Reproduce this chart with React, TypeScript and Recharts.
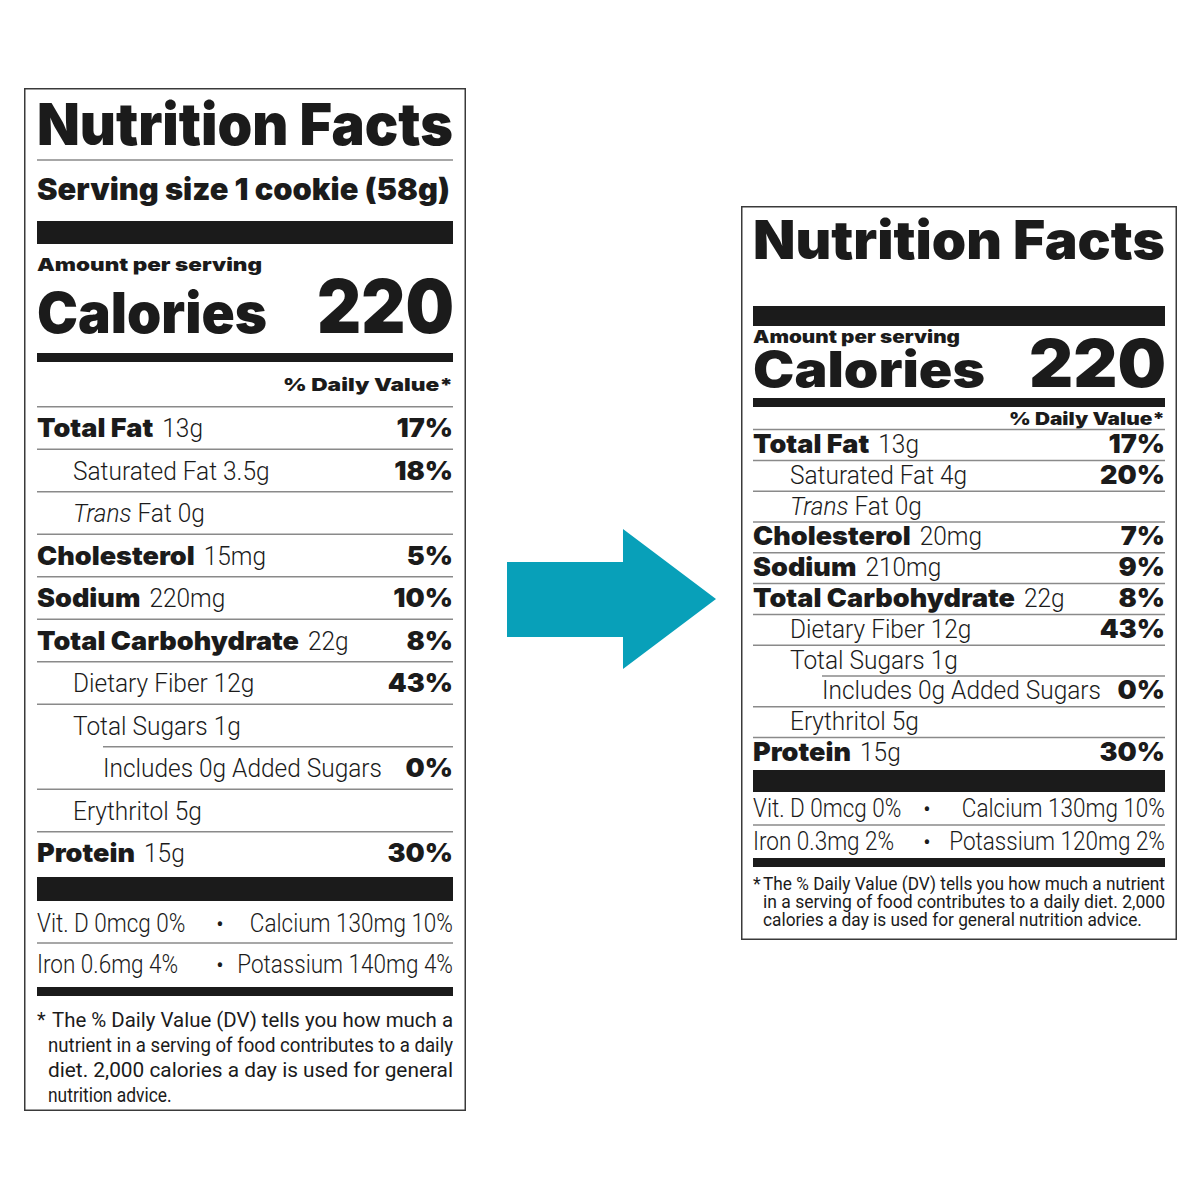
import React from "react";
import { BarChart, Bar, XAxis, YAxis } from "recharts";

// rows shared by both labels
const nutrients = [
  "Total Fat",
  "Saturated Fat",
  "Trans Fat",
  "Cholesterol",
  "Sodium",
  "Total Carbohydrate",
  "Dietary Fiber",
  "Total Sugars",
  "Includes 0g Added Sugars",
  "Erythritol",
  "Protein",
];
const nutrientLevels = [0, 1, 1, 0, 0, 0, 1, 1, 2, 1, 0];

// before (left label)
const beforeAmounts = ["13g", "3.5g", "0g", "15mg", "220mg", "22g", "12g", "1g", "", "5g", "15g"];
const beforeDV = [17, 18, null, 5, 10, 8, 43, null, 0, null, 30];
const beforeCalories = 220;
const beforeServing = "Serving size 1 cookie (58g)";
const beforeMinerals = [
  ["Vit. D 0mcg 0%", "Calcium 130mg 10%"],
  ["Iron 0.6mg 4%", "Potassium 140mg 4%"],
];
const beforeFootnote = [
  "The % Daily Value (DV) tells you how much a",
  "nutrient in a serving of food contributes to a daily",
  "diet. 2,000 calories a day is used for general",
  "nutrition advice.",
];

// after (right label)
const afterAmounts = ["13g", "4g", "0g", "20mg", "210mg", "22g", "12g", "1g", "", "5g", "15g"];
const afterDV = [17, 20, null, 7, 9, 8, 43, null, 0, null, 30];
const afterCalories = 220;
const afterMinerals = [
  ["Vit. D 0mcg 0%", "Calcium 130mg 10%"],
  ["Iron 0.3mg 2%", "Potassium 120mg 2%"],
];
const afterFootnote = [
  "The % Daily Value (DV) tells you how much a nutrient",
  "in a serving of food contributes to a daily diet. 2,000",
  "calories a day is used for general nutrition advice.",
];

const arrowData = [{ name: "becomes", value: 1 }];

const INK = "#1b1b1b";
const RULE = "#8a8a8a";
const HEAVY = "Inter, 'Noto Sans', sans-serif";
const LIGHT = "Roboto, 'Liberation Sans', sans-serif";
const ARROW = "#08a0b9";
const ROW_BOLD = 26;
const ROW_STRETCH = 1.04;

let ctx: CanvasRenderingContext2D | null = null;
function textWidth(text: string, font: string) {
  if (!ctx) ctx = document.createElement("canvas").getContext("2d");
  if (!ctx) return text.length * 10;
  ctx.font = font;
  return ctx.measureText(text).width;
}

const Heavy = ({ x, y, size, anchor, len, children }: any) => (
  <text
    x={x}
    y={y}
    fontFamily={HEAVY}
    fontWeight={900}
    fontSize={size}
    textAnchor={anchor || "start"}
    textLength={len}
    lengthAdjust={len ? "spacingAndGlyphs" : undefined}
    fill={INK}
  >
    {children}
  </text>
);

// condensed light text, squeezed from the measured natural width
const LightText = ({ x, y, size, text, lead, anchor, len, weight = 300, squeeze = 0.94 }: any) => {
  const natural =
    textWidth(text, `${weight} ${size}px Roboto`) +
    (lead ? textWidth(lead, `italic ${weight} ${size}px Roboto`) : 0);
  return (
    <text
      x={x}
      y={y}
      fontFamily={LIGHT}
      fontWeight={weight}
      fontSize={size}
      textAnchor={anchor || "start"}
      textLength={len ?? natural * squeeze}
      lengthAdjust="spacingAndGlyphs"
      fill={INK}
    >
      {lead && <tspan fontStyle="italic">{lead}</tspan>}
      {text}
    </text>
  );
};

const RowTick = (props: any) => {
  const { y, payload, rows, spec } = props;
  const i = rows.findIndex((r: any) => r.name === payload.value);
  if (i < 0) return null;
  const row = rows[i];
  const next = rows[i + 1];
  const L = spec.pad;
  const R = spec.width - spec.pad;
  const pitch = (spec.rowsBottom - spec.rowsTop) / rows.length;
  const base = y + spec.baseline;
  const boldW = (s: string) => textWidth(s, `900 ${ROW_BOLD}px Inter`) * ROW_STRETCH;

  let label;
  if (row.level === 0) {
    const nameW = boldW(row.name);
    label = (
      <g>
        <Heavy x={L} y={base} size={ROW_BOLD} len={nameW}>{row.name}</Heavy>
        <LightText x={L + nameW + 9} y={base} size={26} text={row.amount} />
      </g>
    );
  } else {
    const x = L + (row.level === 2 ? spec.indent2 : spec.indent1);
    const full = row.amount ? `${row.name} ${row.amount}` : row.name;
    const lead = full.startsWith("Trans ") ? "Trans" : undefined;
    label = <LightText x={x} y={base} size={26} lead={lead} text={lead ? full.slice(5) : full} />;
  }

  const dvText = row.dv != null ? `${row.dv}%` : null;
  return (
    <g>
      {label}
      {dvText && (
        <Heavy x={R} y={base} size={ROW_BOLD} len={boldW(dvText)} anchor="end">{dvText}</Heavy>
      )}
      {next && (
        <line
          x1={L + (next.level === 2 ? spec.indent2 : 0)}
          x2={R}
          y1={y + pitch / 2}
          y2={y + pitch / 2}
          stroke={RULE}
          strokeWidth={1.5}
        />
      )}
    </g>
  );
};

const LabelDecor = ({ spec, calories, serving, minerals, footnote }: any) => {
  const L = spec.pad;
  const R = spec.width - spec.pad;
  const W = R - L;
  return (
    <g>
      <rect x={0.75} y={0.75} width={spec.width - 1.5} height={spec.height - 1.5} fill="none" stroke="#3a3a3a" strokeWidth={1.5} />
      <Heavy x={L} y={spec.title.y} size={spec.title.size} len={spec.title.len}>Nutrition Facts</Heavy>
      {spec.rule != null && <line x1={L} x2={R} y1={spec.rule} y2={spec.rule} stroke={RULE} strokeWidth={1.5} />}
      {serving && (
        <Heavy x={L} y={spec.serving.y} size={spec.serving.size} len={spec.serving.len}>{serving}</Heavy>
      )}
      <rect x={L} y={spec.bar1[0]} width={W} height={spec.bar1[1]} fill={INK} />
      <Heavy x={L} y={spec.amountLine.y} size={spec.amountLine.size} len={spec.amountLine.len}>Amount per serving</Heavy>
      <Heavy x={L} y={spec.calories.y} size={spec.calories.size} len={spec.calories.len}>Calories</Heavy>
      <Heavy x={R + 1} y={spec.calories.y} size={spec.calValue.size} len={spec.calValue.len} anchor="end">{String(calories)}</Heavy>
      <rect x={L} y={spec.bar2[0]} width={W} height={spec.bar2[1]} fill={INK} />
      <Heavy x={R} y={spec.dvHead.y} size={spec.dvHead.size} len={spec.dvHead.len} anchor="end">% Daily Value*</Heavy>
      <line x1={L} x2={R} y1={spec.rowsTop} y2={spec.rowsTop} stroke={RULE} strokeWidth={1.5} />

      <rect x={L} y={spec.bar3[0]} width={W} height={spec.bar3[1]} fill={INK} />
      {minerals.map((pair: string[], k: number) => (
        <g key={k}>
          <LightText x={L} y={spec.minY[k]} size={25} squeeze={0.9} text={pair[0]} />
          <text x={spec.bulletX} y={spec.minY[k]} fontFamily={LIGHT} fontSize={22} textAnchor="middle" fill={INK}>•</text>
          <LightText x={R} y={spec.minY[k]} size={25} squeeze={0.9} anchor="end" text={pair[1]} />
        </g>
      ))}
      <line x1={L} x2={R} y1={spec.minLine} y2={spec.minLine} stroke={RULE} strokeWidth={1.5} />
      <rect x={L} y={spec.bar4[0]} width={W} height={spec.bar4[1]} fill={INK} />

      <text x={L} y={spec.foot.y0} fontFamily={LIGHT} fontSize={spec.foot.size} fill={INK}>*</text>
      {footnote.map((line: string, k: number) => {
        const x = L + (k === 0 ? spec.foot.firstIndent : spec.foot.indent);
        const last = k === footnote.length - 1;
        return (
          <LightText
            key={k}
            x={x}
            y={spec.foot.y0 + k * spec.foot.step}
            size={spec.foot.size}
            weight={400}
            squeeze={spec.foot.squeeze}
            text={line}
            len={last ? undefined : R - x}
          />
        );
      })}
    </g>
  );
};

const NutritionLabel = ({ spec, amounts, dv, calories, serving, minerals, footnote }: any) => {
  const rows = nutrients.map((name, i) => ({
    name,
    level: nutrientLevels[i],
    amount: amounts[i],
    dv: dv[i],
  }));
  return (
    <div style={{ position: "absolute", left: spec.left, top: spec.top, background: "#fff" }}>
      <BarChart
        layout="vertical"
        width={spec.width}
        height={spec.height}
        data={rows}
        margin={{ top: spec.rowsTop, bottom: spec.height - spec.rowsBottom, left: spec.pad, right: spec.pad }}
      >
        <LabelDecor spec={spec} calories={calories} serving={serving} minerals={minerals} footnote={footnote} />
        <XAxis type="number" hide domain={[0, 100]} />
        <YAxis
          type="category"
          dataKey="name"
          width={1}
          interval={0}
          tickLine={false}
          axisLine={false}
          tick={(p: any) => <RowTick {...p} rows={rows} spec={spec} />}
        />
        <Bar dataKey="dv" fillOpacity={0} isAnimationActive={false} />
      </BarChart>
    </div>
  );
};

const ArrowShape = (p: any) => {
  const { x, y, width: w, height: h, fill } = p;
  const neck = x + w * 0.555;
  const top = y + h * 0.236;
  const bot = y + h * 0.771;
  const pts = [
    [x, top],
    [neck, top],
    [neck, y],
    [x + w, y + h / 2],
    [neck, y + h],
    [neck, bot],
    [x, bot],
  ];
  return <polygon points={pts.map((q) => q.join(",")).join(" ")} fill={fill} />;
};

const beforeSpec = {
  left: 24, top: 88, width: 442, height: 1023, pad: 13, indent1: 36, indent2: 66, baseline: 9,
  title: { y: 57, size: 58, len: 416 },
  rule: 72,
  serving: { y: 112, size: 30, len: 413 },
  bar1: [133, 23],
  amountLine: { y: 183, size: 18, len: 225 },
  calories: { y: 245, size: 56, len: 230 },
  calValue: { size: 74, len: 137 },
  bar2: [265, 9],
  dvHead: { y: 303, size: 18, len: 170 },
  rowsTop: 318.75,
  rowsBottom: 786.25,
  bar3: [789, 24],
  minY: [844, 885],
  minLine: 855,
  bulletX: 196,
  bar4: [899, 9],
  foot: { y0: 939, step: 25, size: 20, indent: 11, firstIndent: 15, squeeze: 0.87 },
};

const afterSpec = {
  left: 741, top: 206, width: 436, height: 734, pad: 12, indent1: 37, indent2: 69, baseline: 8,
  title: { y: 53, size: 53, len: 412 },
  rule: null,
  serving: null,
  bar1: [100, 20],
  amountLine: { y: 137, size: 17, len: 207 },
  calories: { y: 181, size: 49, len: 232 },
  calValue: { size: 66, len: 137 },
  bar2: [192, 9],
  dvHead: { y: 219, size: 17, len: 156 },
  rowsTop: 223.6,
  rowsBottom: 562.4,
  bar3: [564, 22],
  minY: [611, 644],
  minLine: 619,
  bulletX: 186,
  bar4: [652, 9],
  foot: { y0: 684, step: 18, size: 18, indent: 10, firstIndent: 10, squeeze: 0.96 },
};

export default function App() {
  return (
    <div style={{ position: "relative", width: 1200, height: 1200, margin: -8, background: "#fff", overflow: "hidden" }}>
      <NutritionLabel
        spec={beforeSpec}
        amounts={beforeAmounts}
        dv={beforeDV}
        calories={beforeCalories}
        serving={beforeServing}
        minerals={beforeMinerals}
        footnote={beforeFootnote}
      />
      <div style={{ position: "absolute", left: 500, top: 520 }}>
        <BarChart
          layout="vertical"
          width={230}
          height={160}
          data={arrowData}
          margin={{ top: 9, bottom: 11, left: 7, right: 14 }}
          barCategoryGap={0}
        >
          <XAxis type="number" hide domain={[0, 1]} />
          <YAxis type="category" dataKey="name" hide />
          <Bar dataKey="value" fill={ARROW} shape={ArrowShape} isAnimationActive={false} />
        </BarChart>
      </div>
      <NutritionLabel
        spec={afterSpec}
        amounts={afterAmounts}
        dv={afterDV}
        calories={afterCalories}
        serving={null}
        minerals={afterMinerals}
        footnote={afterFootnote}
      />
    </div>
  );
}
